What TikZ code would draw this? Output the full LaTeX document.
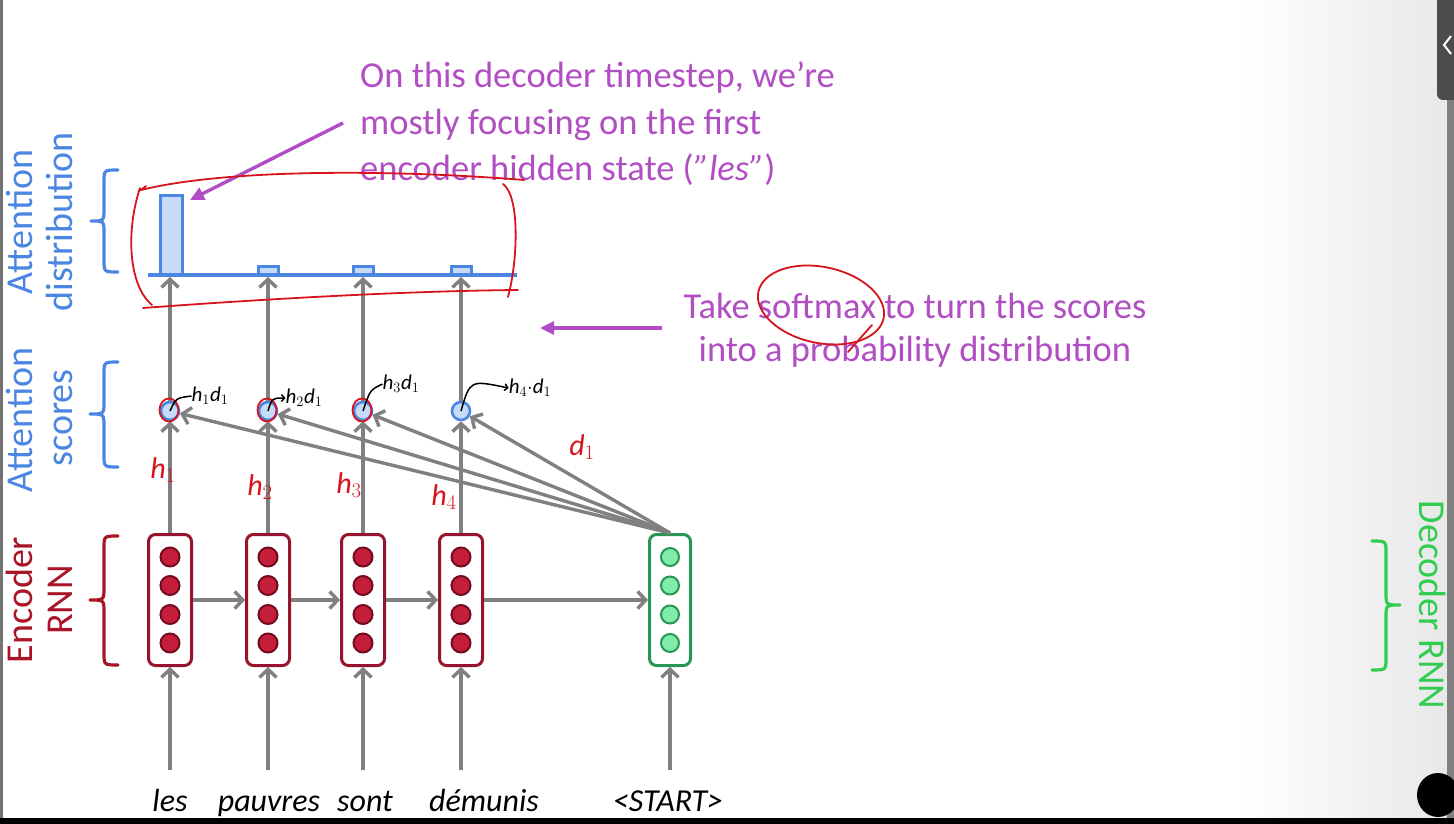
\documentclass[tikz,border=0pt]{standalone}
\usepackage{fontspec}
\setmainfont{Carlito}
\usetikzlibrary{arrows.meta}
\definecolor{blueC}{RGB}{74,134,226}
\definecolor{blueF}{RGB}{197,219,247}
\definecolor{redB}{RGB}{150,20,45}
\definecolor{redF}{RGB}{196,30,58}
\definecolor{redD}{RGB}{115,10,30}
\definecolor{encT}{RGB}{170,20,40}
\definecolor{greenB}{RGB}{40,150,85}
\definecolor{greenF}{RGB}{128,236,170}
\definecolor{decT}{RGB}{50,205,80}
\definecolor{purpleC}{RGB}{178,78,196}
\definecolor{grayA}{RGB}{128,128,128}
\definecolor{penR}{RGB}{215,20,30}
\begin{document}
\begin{tikzpicture}[x=1pt,y=-1pt,
  encbox/.style={draw=redB,line width=3pt,rounded corners=7pt,minimum width=43pt,minimum height=131pt,inner sep=0pt},
  decbox/.style={draw=greenB,line width=3pt,rounded corners=7pt,minimum width=41pt,minimum height=131pt,inner sep=0pt},
  encdot/.style={fill=redF,draw=redD,line width=2pt},
  decdot/.style={fill=greenF,draw=greenB,line width=2pt},
  score/.style={circle,draw=blueC,fill=blueF,line width=2.6pt,minimum size=18pt,inner sep=0pt},
  garrow/.style={draw=grayA,line width=3.4pt,-{Straight Barb[length=8pt,width=17pt]}},
  parrow/.style={draw=purpleC,line width=3.4pt,-{Triangle[length=14pt,width=13pt]}},
  brace/.style={line width=3.2pt,line cap=round,line join=round},
  lbl/.style={font=\fontsize{38}{41}\selectfont,rotate=90,anchor=base,inner sep=0pt},
  word/.style={font=\fontsize{32}{36}\selectfont\itshape,anchor=base,inner sep=0pt},
  ptext/.style={font=\fontsize{36.5}{47}\selectfont,text=purpleC,inner sep=0pt},
  redpen/.style={draw=penR,line width=1.8pt,line cap=round},
  hand/.style={font=\fontsize{30}{32}\selectfont\itshape,inner sep=0pt},
  bhand/.style={font=\fontsize{21}{22}\selectfont\itshape,inner sep=0pt},
]
\useasboundingbox (0,0) rectangle (1454,824);
% background
\fill[white] (0,0) rectangle (1454,824);
\shade[left color=white,right color=black!9] (1240,0) rectangle (1447,818);
\fill[black!55] (0,0) rectangle (3,818);
\fill[black!50] (1447,0) rectangle (1454,818);
\fill[black!70,rounded corners=6pt] (1437,-10) rectangle (1460,100);
\draw[white,line width=2pt] (1451,36) -- (1444,45) -- (1451,54);
\fill[black] (0,818) rectangle (1454,824);
\fill[black] (1438,795) ellipse (21 and 22);

% encoder boxes
\foreach \n/\x in {1/170,2/268,3/363,4/461}{
  \node[encbox] (e\n) at (\x,600) {};
  \foreach \dy in {-43,-14.5,14.5,43}
    \draw[encdot] (\x,600+\dy) circle (9.5);
}
\node[decbox] (dec) at (670,600) {};
\foreach \dy in {-43,-14.5,14.5,43}
  \draw[decdot] (670,600+\dy) circle (9);

% words
\node[word] (w1) at (170,811) {les};
\node[word] (w2) at (269,811) {pauvres};
\node[word] (w3) at (365,811) {sont};
\node[word] (w4) at (484,811) {démunis};
\node[word] (w5) at (668,811) {<START>};
\foreach \n/\x in {1/170,2/268,3/363,4/461}{
  \coordinate (i\n) at (\x,770);
  \draw[garrow] (i\n) -- (e\n.south);
}
\coordinate (i5) at (670,770);
\draw[garrow] (i5) -- (dec.south);

% recurrent arrows
\draw[garrow] (e1.east) -- (e2.west);
\draw[garrow] (e2.east) -- (e3.west);
\draw[garrow] (e3.east) -- (e4.west);
\draw[garrow] (e4.east) -- (dec.west);

% scores
\foreach \n/\x in {1/170,2/268,3/363,4/461}{
  \node[score] (s\n) at (\x,411) {};
  \draw[garrow] (e\n.north) -- (s\n);
  \coordinate (a\n) at (\x,277);
  \draw[garrow] (s\n) -- (a\n);
}
\foreach \n in {1,2,3,4}
  \draw[garrow] (dec.north) -- (s\n);

% attention distribution
\draw[blueC,fill=blueF,line width=3pt] (160.5,275) rectangle (182.5,195);
\foreach \x in {268,363,461}
  \draw[blueC,fill=blueF,line width=3pt] (\x-10,275) rectangle (\x+10,266);
\draw[blueC,line width=3.5pt] (148,275) -- (517,275);

% left labels and braces
\node[lbl,text=blueC] (l1a) at (32,222) {Attention};
\node[lbl,text=blueC] (l1b) at (72,222) {distribution};
\node[lbl,text=blueC] (l2a) at (32,420) {Attention};
\node[lbl,text=blueC] (l2b) at (72,418) {scores};
\node[lbl,text=encT] (l3a) at (32,600) {Encoder};
\node[lbl,text=encT] (l3b) at (72,600) {RNN};
\node[font=\fontsize{38}{41}\selectfont,rotate=-90,anchor=base,inner sep=0pt,text=decT] (l4) at (1419,605) {Decoder RNN};

\draw[brace,blueC] (118,170) .. controls (104,170) .. (104,182) -- (104,209) .. controls (104,221) .. (91,221) .. controls (104,221) .. (104,233) -- (104,260) .. controls (104,272) .. (118,272);
\draw[brace,blueC] (118,362) .. controls (104,362) .. (104,374) -- (104,402) .. controls (104,414) .. (90,414) .. controls (104,414) .. (104,426) -- (104,455) .. controls (104,467) .. (118,467);
\draw[brace,encT] (118,536) .. controls (104,536) .. (104,548) -- (104,588) .. controls (104,600) .. (90,600) .. controls (104,600) .. (104,612) -- (104,653) .. controls (104,665) .. (118,665);
\draw[brace,decT] (1372,541) .. controls (1386,541) .. (1386,553) -- (1386,593) .. controls (1386,605) .. (1400,605) .. controls (1386,605) .. (1386,617) -- (1386,658) .. controls (1386,670) .. (1372,670);

% purple annotations
\node[ptext,anchor=base west] (p1) at (360,88) {On this decoder timestep, we’re};
\node[ptext,anchor=base west] (p2) at (360,135) {mostly focusing on the first};
\node[ptext,anchor=base west] (p3) at (360,181) {encoder hidden state (\textit{”les”})};
\coordinate (pa1) at (343,123);
\coordinate (pb1) at (190,200);
\draw[parrow] (pa1) -- (pb1);
\node[ptext] (q1) at (915,306) {Take softmax to turn the scores};
\node[ptext] (q2) at (915,352) {into a probability distribution};
\coordinate (pa2) at (662,328);
\coordinate (pb2) at (540,328);
\draw[parrow] (pa2) -- (pb2);

% handwritten marks
\draw[redpen] (146,186) -- (141,190) .. controls (230,168) and (400,170) .. (524,180);
\draw[redpen] (140,188) .. controls (126,230) and (128,285) .. (152,305);
\draw[redpen] (143,308) .. controls (250,300) and (400,291) .. (518,290);
\draw[redpen] (503,184) .. controls (520,196) and (518,260) .. (508,297);
\draw[redpen,rotate around={-12:(821,305)}] (821,305) ellipse (64 and 38);
\draw[redpen] (872,325) -- (848,352);
\foreach \n in {1,2,3}
  \draw[redpen] ([xshift=-1pt,yshift=1pt]s\n.center) ellipse (9.5 and 11.5);
\node[hand,text=penR] (h1) at (163,470) {h$_1$};
\node[hand,text=penR] (h2) at (260,487) {h$_2$};
\node[hand,text=penR] (h3) at (349,485) {h$_3$};
\node[hand,text=penR] (h4) at (444,497) {h$_4$};
\node[hand,text=penR] (hd) at (582,447) {d$_1$};
\node[bhand] (k1) at (210,396) {h$_1$d$_1$};
\node[bhand] (k2) at (304,398) {h$_2$d$_1$};
\node[bhand] (k3) at (401,384) {h$_3$d$_1$};
\node[bhand] (k4) at (530,388) {h$_4$$\cdot$d$_1$};
\draw[line width=1.5pt] (s1.center) .. controls (176,398) .. (k1.west);
\draw[line width=1.5pt,-{Straight Barb[length=3pt,width=7pt]}] (s2.center) .. controls (272,398) .. (k2.west);
\draw[line width=1.5pt] (s3.center) .. controls (370,390) .. (k3.west);
\draw[line width=1.5pt,-{Straight Barb[length=3pt,width=7pt]}] (s4.center) .. controls (470,380) .. (k4.west);
\end{tikzpicture}
\end{document}
